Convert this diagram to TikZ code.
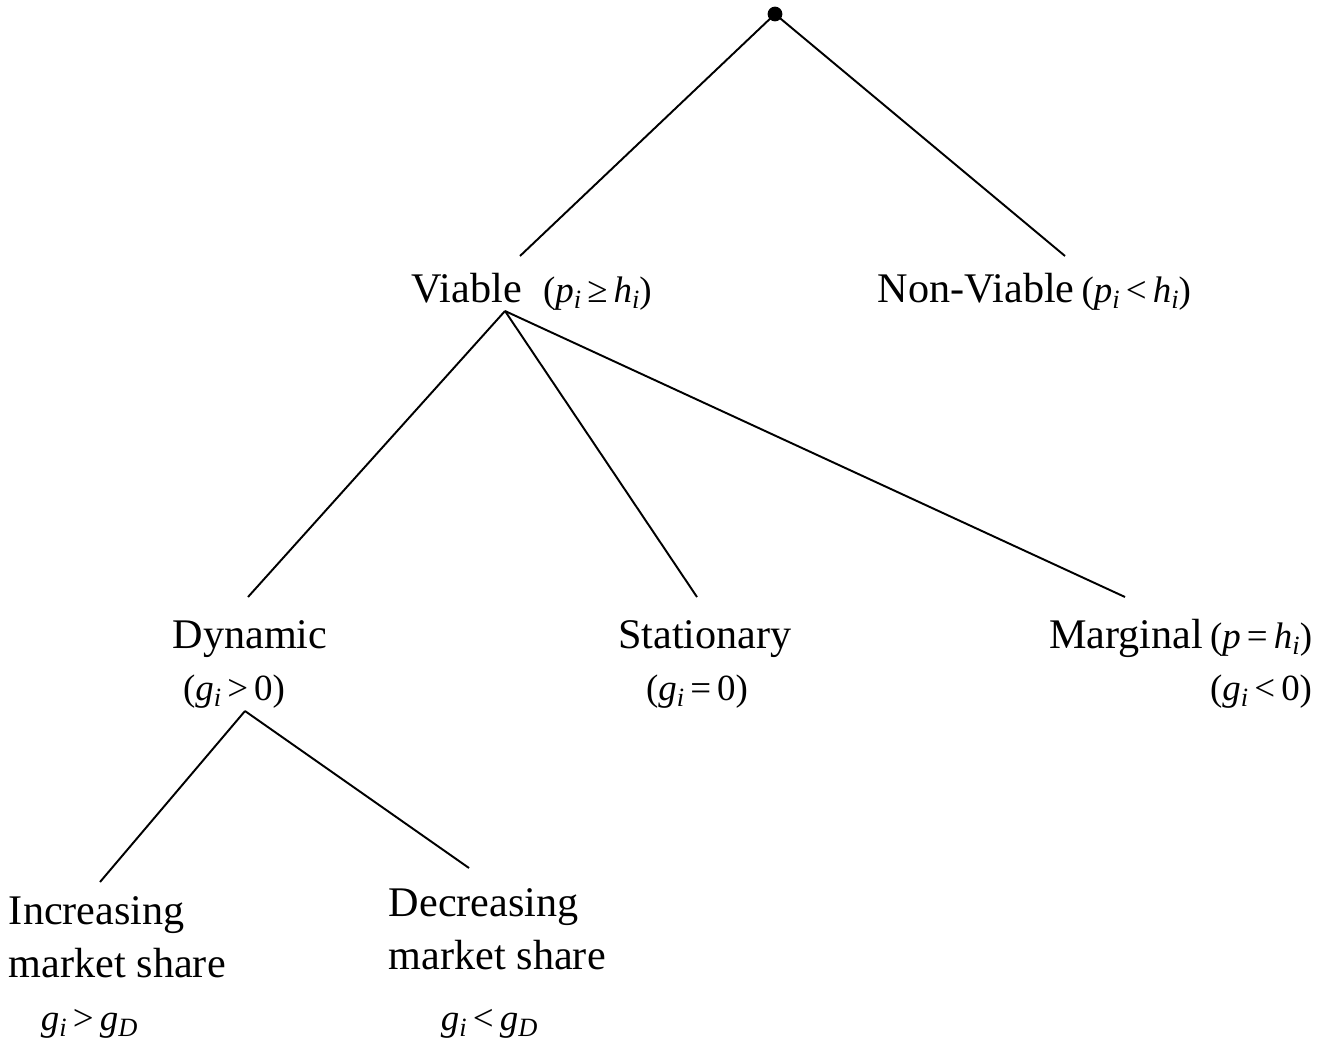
\documentclass[tikz,border=0pt]{standalone}
\usepackage{fontspec}
\setmainfont{Liberation Serif}
\newcommand{\vs}[2]{\textit{#1}\raisebox{-0.4ex}{\fontsize{7.5}{8}\selectfont\textit{#2}}}
\newcommand{\condfont}{\fontsize{10.5}{15}\selectfont}

\begin{document}
\begin{tikzpicture}[x=0.01cm, y=-0.01cm, line width=0.55pt,
    every node/.style={font=\fontsize{12}{15}\selectfont, inner sep=0pt}]

  \useasboundingbox (0,0) rectangle (1328,1045);

  % root of the tree
  \node[circle, fill, minimum size=4.2pt] (root) at (775,14) {};

  % first level
  \node[anchor=base west] (viable) at (411,302)
    {Viable\ \ {\condfont(\vs{p}{i}\,≥\,\vs{h}{i})}};
  \node[anchor=base west] (nonviable) at (877,302)
    {Non-Viable\,{\condfont(\vs{p}{i}\,<\,\vs{h}{i})}};
  \coordinate (via-in) at (520,256);
  \coordinate (non-in) at (1065,256);
  \coordinate (via-out) at (505,311);

  % second level
  \node[anchor=base] (dynamic) at (250,648) {Dynamic};
  \node[anchor=base] (dyncond) at (234,700) {\condfont(\vs{g}{i}\,>\,0)};
  \node[anchor=base] (stationary) at (705,648) {Stationary};
  \node[anchor=base] (stacond) at (697,700) {\condfont(\vs{g}{i}\,=\,0)};
  \node[anchor=base east] (marginal) at (1313,648)
    {Marginal\,{\condfont(\textit{p}\,=\,\vs{h}{i})}};
  \node[anchor=base east] (marcond) at (1313,700) {\condfont(\vs{g}{i}\,<\,0)};
  \coordinate (dyn-in) at (248,597);
  \coordinate (sta-in) at (697,597);
  \coordinate (mar-in) at (1125,597);
  \coordinate (dyn-out) at (245,711);

  % third level
  \node[anchor=base west, align=left] (increasing) at (8,977) {Increasing\\market share};
  \node[anchor=base west] (inccond) at (40,1030) {\condfont\vs{g}{i}\,>\,\vs{g}{D}};
  \node[anchor=base west, align=left] (decreasing) at (388,969) {Decreasing\\market share};
  \node[anchor=base west] (deccond) at (440,1030) {\condfont\vs{g}{i}\,<\,\vs{g}{D}};
  \coordinate (inc-in) at (100,882);
  \coordinate (dec-in) at (469,868);

  % branches
  \draw (root.center) -- (via-in);
  \draw (root.center) -- (non-in);
  \foreach \t in {dyn-in, sta-in, mar-in} {
    \draw (via-out) -- (\t);
  }
  \foreach \t in {inc-in, dec-in} {
    \draw (dyn-out) -- (\t);
  }
\end{tikzpicture}
\end{document}
